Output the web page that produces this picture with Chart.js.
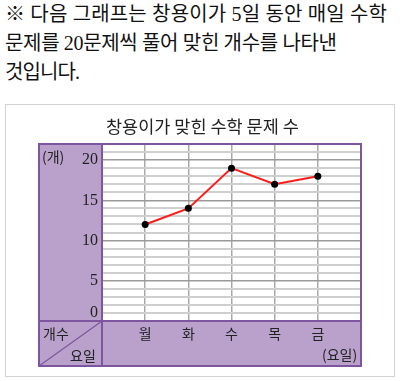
<!DOCTYPE html>
<html><head><meta charset="utf-8">
<script src="https://cdn.jsdelivr.net/npm/chart.js@4/dist/chart.umd.min.js"></script>
<style>
html,body{margin:0;padding:0;background:#fff;width:400px;height:381px;overflow:hidden;}
#wrap{position:relative;width:400px;height:381px;}
.q{position:absolute;left:5px;font-size:20px;font-family:"Liberation Serif","Noto Sans CJK KR",serif;color:#111;white-space:nowrap;line-height:29px;}
#box{position:absolute;left:5px;top:104px;width:388px;height:271px;border:1px solid #d2d2d2;}
#cv{position:absolute;left:0;top:0;}
.t{position:absolute;white-space:nowrap;color:#222;font-family:"Noto Sans CJK KR",sans-serif;line-height:1;}
</style></head>
<body><div id="wrap">
<div class="q" data-w="382" style="top:0px">※ 다음 그래프는 창용이가 5일 동안 매일 수학</div>
<div class="q" data-w="332" style="top:29px">문제를 20문제씩 풀어 맞힌 개수를 나타낸</div>
<div class="q" data-w="75" style="top:58px">것입니다.</div>
<div id="box"></div>
<canvas id="cv" width="400" height="381"></canvas>
<div class="t" id="title" style="left:106px;top:117px;font-size:17.5px;">창용이가 맞힌 수학 문제 수</div>
<div class="t" style="left:42px;top:149px;font-size:14px;">(개)</div>
<div class="t" style="left:43px;top:326px;font-size:14px;">개수</div>
<div class="t" style="left:70px;top:348px;font-size:14px;">요일</div>
<div class="t" style="left:322px;top:347px;font-size:14px;">(요일)</div>
</div>
<script>
const days = ['월', '화', '수', '목', '금'];
const correct = [12, 14, 19, 17, 18];
const yMax = 22;
const yLabelStep = 5;

// fit header lines to the reference widths
document.querySelectorAll('.q').forEach(el => {
  const target = +el.dataset.w;
  const w = el.getBoundingClientRect().width;
  const n = el.textContent.length - 1;
  el.style.letterSpacing = ((target - w) / n) + 'px';
});

const PURPLE = '#b9a1cc';
const PURPLE_DARK = '#7e56a0';

const framePlugin = {
  id: 'frame',
  beforeDraw(chart) {
    const ctx = chart.ctx, a = chart.chartArea;
    const L = chart.scales.y.left, B = chart.scales.x.bottom;
    ctx.save();
    ctx.fillStyle = PURPLE;
    ctx.fillRect(L, a.top, a.left - L, B - a.top);
    ctx.fillRect(a.left, a.bottom, a.right - a.left, B - a.bottom);
    ctx.restore();
  },
  afterDraw(chart) {
    const ctx = chart.ctx, a = chart.chartArea;
    const L = chart.scales.y.left, B = chart.scales.x.bottom;
    ctx.save();
    ctx.strokeStyle = PURPLE_DARK;
    ctx.lineWidth = 2;
    ctx.strokeRect(L, a.top, a.right - L, B - a.top);
    ctx.beginPath();
    ctx.moveTo(a.left, a.top); ctx.lineTo(a.left, B);
    ctx.moveTo(L, a.bottom); ctx.lineTo(a.right, a.bottom);
    ctx.stroke();
    ctx.lineWidth = 1.2;
    ctx.beginPath();
    ctx.moveTo(L, B); ctx.lineTo(a.left, a.bottom);
    ctx.stroke();
    ctx.restore();
  }
};

new Chart(document.getElementById('cv'), {
  type: 'line',
  data: {
    datasets: [{
      data: correct.map((v, i) => ({x: i + 1, y: v})),
      borderColor: '#ff1a1a',
      borderWidth: 2,
      pointRadius: 3.5,
      pointBackgroundColor: '#000',
      pointBorderColor: '#000',
      pointBorderWidth: 0,
      tension: 0
    }]
  },
  options: {
    responsive: false,
    animation: false,
    events: [],
    layout: {padding: {left: 39, top: 144, right: 39, bottom: 15}},
    plugins: {legend: {display: false}, tooltip: {enabled: false}, title: {display: false}},
    scales: {
      x: {
        type: 'linear', min: 0, max: days.length + 1,
        afterBuildTicks(s) { s.ticks = Array.from({length: days.length + 2}, (_, i) => ({value: i})); },
        afterFit(s) { s.height = 45; },
        border: {display: false},
        grid: {
          drawTicks: false,
          lineWidth: 1.5,
          color: c => (c.tick && (c.tick.value === 0 || c.tick.value === days.length + 1)) ? 'rgba(0,0,0,0)' : '#a9a9a9'
        },
        ticks: {
          autoSkip: false, maxRotation: 0, padding: 4,
          color: '#222',
          font: {family: '"Noto Sans CJK KR", sans-serif', size: 14},
          callback: v => days[v - 1] ?? ''
        }
      },
      y: {
        min: 0, max: yMax,
        afterFit(s) { s.width = 63; },
        border: {display: false},
        grid: {
          drawTicks: false,
          lineWidth: c => (c.tick && c.tick.value % yLabelStep === 0) ? 1.5 : 2,
          color: c => (c.tick && c.tick.value % yLabelStep === 0) ? '#9a9a9a' : '#cfcfcf'
        },
        ticks: {
          stepSize: 1, autoSkip: false, padding: 4,
          color: '#222',
          font: {family: '"Liberation Serif", serif', size: 16, lineHeight: 1},
          callback: v => v === 0 ? ['0', ''] : ((v % yLabelStep === 0 && v <= 20) ? String(v) : '')
        }
      }
    }
  },
  plugins: [framePlugin]
});
</script>
</body></html>
